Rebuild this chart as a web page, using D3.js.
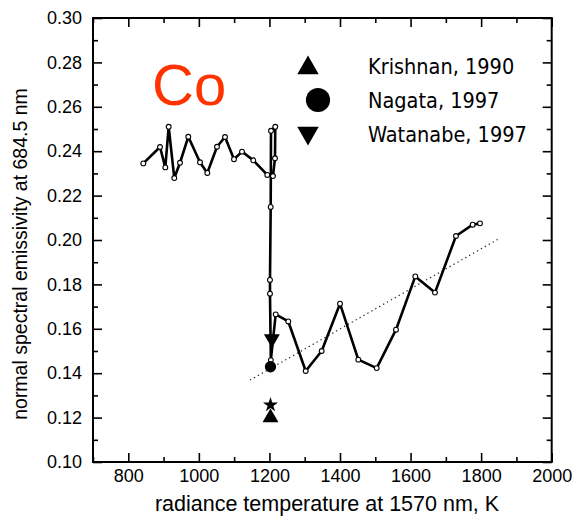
<!DOCTYPE html>
<html>
<head>
<meta charset="utf-8">
<script src="https://cdn.jsdelivr.net/npm/d3@7"></script>
<style>
  html, body { margin: 0; padding: 0; background: #fff; }
  svg { display: block; }
</style>
</head>
<body>
<svg id="chart" width="573" height="525"></svg>
<script>
// Measured emissivity of cobalt vs. radiance temperature (heating run)
const tempK = [842.6, 889.9, 904.9, 914.5, 930.4, 946.6, 970.1, 1003.2, 1023.9, 1051.4,
               1074.1, 1099.6, 1122.3, 1154.3, 1194, 1210, 1215.8, 1216.6, 1204.5, 1203.6,
               1201.6, 1201.6, 1204, 1217.8, 1253.5, 1302.8, 1348.1, 1400, 1451.9, 1504,
               1558.7, 1613.4, 1669.2, 1728.7, 1776.1, 1796.8];
const emissivity = [0.2345, 0.2419, 0.2327, 0.2510, 0.2279, 0.2348, 0.2465, 0.2350, 0.2302, 0.2420,
                    0.2464, 0.2364, 0.2398, 0.2359, 0.2293, 0.2288, 0.2368, 0.2510, 0.2492, 0.2149,
                    0.1820, 0.1758, 0.1459, 0.1665, 0.1633, 0.1410, 0.1500, 0.1713, 0.1461, 0.1423,
                    0.1596, 0.1836, 0.1763, 0.2018, 0.2069, 0.2075];

// Linear trend of the liquid-phase data
const trendK = [1145, 1853];
const trendE = [0.1369, 0.2008];

// Literature values
const refNames = ["Krishnan, 1990", "Nagata, 1997", "Watanabe, 1997"];
const refK = [1203, 1203, 1207];
const refE = [0.1204, 0.1429, 0.1550];
const starK = [1203];
const starE = [0.1257];

const xTicks = [800, 1000, 1200, 1400, 1600, 1800, 2000];
const xMinor = [700, 900, 1100, 1300, 1500, 1700, 1900];
const yTicks = [0.10, 0.12, 0.14, 0.16, 0.18, 0.20, 0.22, 0.24, 0.26, 0.28, 0.30];
const yMinor = [0.11, 0.13, 0.15, 0.17, 0.19, 0.21, 0.23, 0.25, 0.27, 0.29];

const svg = d3.select("#chart");
const L = 93, R = 551.7, T = 18, B = 462;
const x = d3.scaleLinear().domain([700, 2000]).range([L, R]);
const y = d3.scaleLinear().domain([0.10, 0.30]).range([B, T]);

const tickFont = "Liberation Sans, Arial, sans-serif";

// tick marks pointing inward on all four sides
function ticks(axisGen, transform, vals, size) {
  const g = svg.append("g").attr("transform", transform)
    .call(axisGen.tickValues(vals).tickSize(size).tickFormat(""));
  g.select(".domain").remove();
  g.selectAll(".tick line").attr("stroke", "#000").attr("stroke-width", 1.6);
}
ticks(d3.axisBottom(x), `translate(0,${B})`, xTicks, -9);
ticks(d3.axisBottom(x), `translate(0,${B})`, xMinor, -5);
ticks(d3.axisTop(x), `translate(0,${T})`, xTicks, -9);
ticks(d3.axisTop(x), `translate(0,${T})`, xMinor, -5);
ticks(d3.axisLeft(y), `translate(${L},0)`, yTicks, -9);
ticks(d3.axisLeft(y), `translate(${L},0)`, yMinor, -5);
ticks(d3.axisRight(y), `translate(${R},0)`, yTicks, -9);
ticks(d3.axisRight(y), `translate(${R},0)`, yMinor, -5);

// tick labels
const xl = svg.append("g").attr("transform", `translate(0,${B})`)
  .call(d3.axisBottom(x).tickValues(xTicks).tickSize(0).tickPadding(7).tickFormat(d3.format("d")));
xl.select(".domain").remove();
xl.selectAll("text").attr("font-family", tickFont).attr("font-size", 18).attr("fill", "#000");

const yl = svg.append("g").attr("transform", `translate(${L},0)`)
  .call(d3.axisLeft(y).tickValues(yTicks).tickSize(0).tickPadding(11).tickFormat(d3.format(".2f")));
yl.select(".domain").remove();
yl.selectAll("text").attr("font-family", tickFont).attr("font-size", 18).attr("fill", "#000");

// frame
svg.append("rect").attr("x", L).attr("y", T).attr("width", R - L).attr("height", B - T)
  .attr("fill", "none").attr("stroke", "#000").attr("stroke-width", 2);

// axis titles
svg.append("text").attr("x", 327).attr("y", 511).attr("text-anchor", "middle")
  .attr("font-family", tickFont).attr("font-size", 21.5).text("radiance temperature at 1570 nm, K");
svg.append("text").attr("transform", `translate(27,${(T + B) / 2 + 14}) rotate(-90)`)
  .attr("text-anchor", "middle").attr("font-family", tickFont).attr("font-size", 19.5)
  .text("normal spectral emissivity at 684.5 nm");

// trend line
svg.append("path")
  .attr("d", d3.line()(trendK.map((k, i) => [x(k), y(trendE[i])])))
  .attr("fill", "none").attr("stroke", "#222").attr("stroke-width", 1.2)
  .attr("stroke-dasharray", "1.3,3.2");

// measured data
const pts = tempK.map((k, i) => [x(k), y(emissivity[i])]);
svg.append("path").attr("d", d3.line()(pts))
  .attr("fill", "none").attr("stroke", "#000").attr("stroke-width", 2.6)
  .attr("stroke-linejoin", "round");
svg.selectAll("circle.pt").data(pts).enter().append("circle").attr("class", "pt")
  .attr("cx", d => d[0]).attr("cy", d => d[1]).attr("r", 2.4)
  .attr("fill", "#fff").attr("stroke", "#000").attr("stroke-width", 1.1);

// literature markers
const shapes = [d3.symbolTriangle, d3.symbolCircle, d3.symbolTriangle];
const rot = [0, 0, 180];
const plotSize = [110, 100, 110];
refK.forEach((k, i) => {
  svg.append("path")
    .attr("d", d3.symbol().type(shapes[i]).size(plotSize[i])())
    .attr("transform", `translate(${x(k)},${y(refE[i]) + (i === 0 ? 1 : i === 2 ? -1 : 0)}) rotate(${rot[i]})`)
    .attr("fill", "#000");
});
starK.forEach((k, i) => {
  svg.append("path").attr("d", d3.symbol().type(d3.symbolStar).size(70)())
    .attr("transform", `translate(${x(k)},${y(starE[i])})`).attr("fill", "#000");
});

// legend
const legY = [66, 100, 134];
const legSize = [200, 460, 200];
const legX = [308, 318, 308];
refNames.forEach((name, i) => {
  svg.append("path")
    .attr("d", d3.symbol().type(shapes[i]).size(legSize[i])())
    .attr("transform", `translate(${legX[i]},${legY[i] + (i === 0 ? 2 : i === 2 ? -1 : 0)}) rotate(${rot[i]})`)
    .attr("fill", "#000");
  svg.append("text").attr("x", 368).attr("y", legY[i] + 7.5)
    .attr("font-family", "DejaVu Sans Condensed, DejaVu Sans, sans-serif")
    .attr("font-stretch", "condensed")
    .attr("font-size", 21.5).attr("fill", "#000").text(name);
});

// element label
svg.append("text").attr("x", 152).attr("y", 105)
  .attr("font-family", tickFont).attr("font-size", 58).attr("fill", "#ff3300").text("Co");
</script>
</body>
</html>
